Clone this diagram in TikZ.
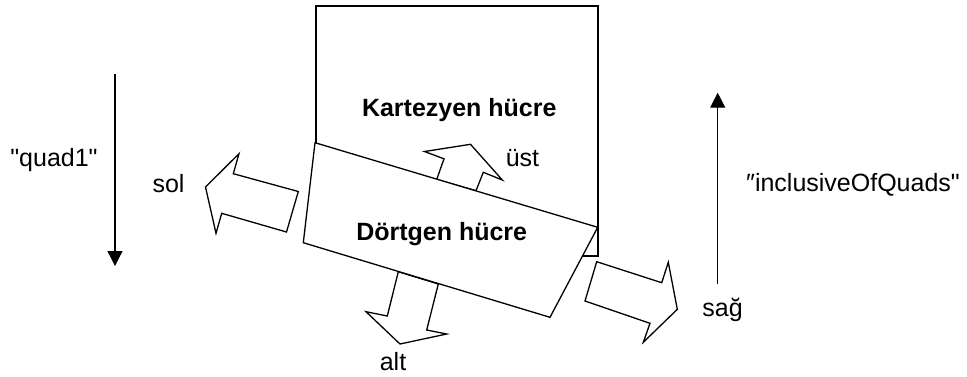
\documentclass[tikz,border=0pt]{standalone}
\usepackage{fontspec}
\setmainfont{Liberation Sans}[Ligatures=TeXOff]
\usetikzlibrary{arrows.meta}
\begin{document}
\begin{tikzpicture}[x=1pt,y=-1pt, line width=1.3pt, line join=miter,
  lbl/.style={font=\fontsize{25}{30}\selectfont, inner sep=0pt, anchor=base},
  boldlbl/.style={font=\fontsize{25}{30}\selectfont\bfseries, inner sep=0pt, anchor=base},
  blockarrow/.style={draw, fill=white, line width=1.3pt},
  cellshape/.style={draw, fill=white, line width=1.3pt},
  dirarrow/.style={-{Triangle[width=15pt,length=15pt]}, line width=1.3pt}]
\useasboundingbox (0,0) rectangle (967,376);

% Cartesian cell (open outline, lower-left hidden by the quad cell)
\coordinate (kbl) at (316,143);
\coordinate (ktl) at (316,6);
\coordinate (ktr) at (598,6);
\coordinate (kbr) at (598,256);
\coordinate (kbx) at (582.5,256);
\draw (kbl) -- (ktl) -- (ktr) -- (kbr) -- (kbx);

% block arrows
\filldraw[blockarrow] (298.3,191.5) -- (233.3,173.7) -- (239,153.7) -- (205.5,187)
  -- (216,233.3) -- (221.7,213.3) -- (286.5,232) -- cycle;
\filldraw[blockarrow] (436.7,179.5) -- (444,158.8) -- (424.5,151.5) -- (470.5,144.3)
  -- (502.3,180) -- (483.3,172.3) -- (476,190.7) -- cycle;
\filldraw[blockarrow] (398.3,271.7) -- (387.3,316) -- (366,311.7) -- (400,344)
  -- (446.7,334) -- (426.7,330) -- (438.3,284) -- cycle;
\filldraw[blockarrow] (596.7,261.7) -- (661.7,282.7) -- (668.3,262.3) -- (677.3,309.3)
  -- (643.3,342.3) -- (650,323.3) -- (585,301) -- cycle;

% quadrilateral cell
\filldraw[cellshape] (315,142.7) -- (597.7,227.3) -- (550,317.3) -- (303.3,242.7) -- cycle;

% labels
\node[boldlbl] (kart) at (459.3,116.7) {Kartezyen hücre};
\node[boldlbl] (dort) at (441.7,240) {Dörtgen hücre};
\node[lbl] (ust) at (522.5,166.3) {üst};
\node[lbl] (sol) at (168.5,192.3) {sol};
\node[lbl] (alt) at (393,370) {alt};
\node[lbl] (sag) at (722.5,316.7) {sağ};
\node[lbl] (quad) at (54,166) {"quad1"};
\node[lbl] (incl) at (853,191.7) {″inclusiveOfQuads"};

% direction arrows
\coordinate (qa) at (115,74);
\coordinate (qb) at (115,266);
\draw[dirarrow] (qa) -- (qb);
\coordinate (ia) at (717.7,284.3);
\coordinate (ib) at (717.7,92.7);
\draw[dirarrow] (ia) -- (ib);
\end{tikzpicture}
\end{document}
